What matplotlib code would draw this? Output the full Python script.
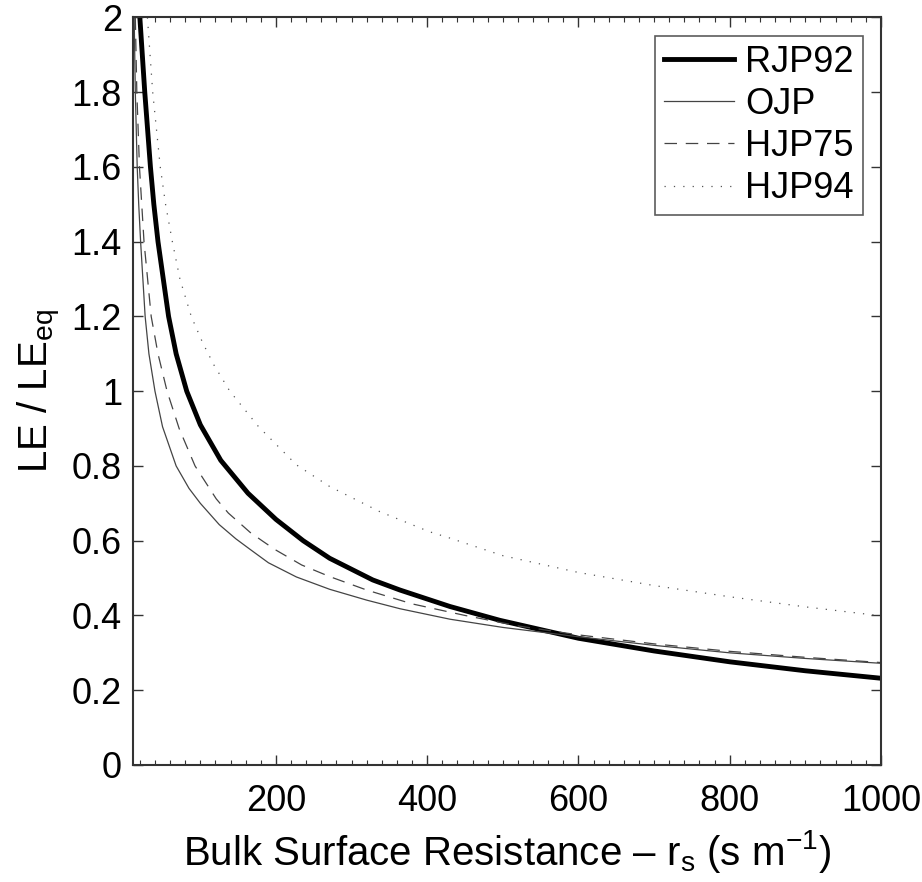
import matplotlib
matplotlib.use("Agg")
import matplotlib.pyplot as plt
from matplotlib.ticker import MultipleLocator, FixedLocator

plt.rcParams['font.family'] = ['Liberation Sans', 'DejaVu Sans']
plt.rcParams['mathtext.fontset'] = 'custom'
plt.rcParams['mathtext.rm'] = 'Liberation Sans'
plt.rcParams['mathtext.it'] = 'Liberation Sans'

# RJP92 (thick solid)
rjp92_x = [20, 26.5, 34, 38.5, 44, 58, 68, 82, 100, 127, 163, 200, 236, 271, 328, 364, 430, 496, 600, 700, 800, 900, 1000]
rjp92_y = [2.0, 1.8, 1.6, 1.5, 1.4, 1.2, 1.1, 1.0, 0.91, 0.815, 0.727, 0.657, 0.6, 0.553, 0.495, 0.468, 0.424, 0.387, 0.339, 0.305, 0.276, 0.252, 0.232]

# OJP (thin solid)
ojp_x = [12.5, 14, 16.5, 18.5, 21, 27, 32, 40, 50, 68, 85, 100, 125, 147, 165, 190, 227, 271, 320, 364, 430, 500, 600, 700, 800, 900, 1000]
ojp_y = [2.0, 1.8, 1.6, 1.5, 1.4, 1.2, 1.1, 1.0, 0.905, 0.8, 0.74, 0.70, 0.643, 0.605, 0.578, 0.541, 0.503, 0.47, 0.441, 0.418, 0.39, 0.368, 0.343, 0.32, 0.3, 0.285, 0.272]

# HJP75 (dashed)
hjp75_x = [14, 16, 19.5, 22.5, 25.5, 35, 44, 56, 72, 93, 121, 137, 166, 183, 199, 234, 271, 320, 380, 450, 520, 600, 700, 800, 900, 1000]
hjp75_y = [2.0, 1.8, 1.6, 1.5, 1.4, 1.2, 1.1, 1.0, 0.9, 0.8, 0.712, 0.674, 0.622, 0.598, 0.576, 0.535, 0.504, 0.468, 0.431, 0.4, 0.372, 0.348, 0.324, 0.304, 0.288, 0.274]

# HJP94 (dotted)
hjp94_x = [30, 37, 47, 54, 63, 73, 88, 103, 118, 139, 177, 227, 271, 337, 403, 430, 500, 600, 700, 800, 900, 1000]
hjp94_y = [2.0, 1.8, 1.6, 1.5, 1.4, 1.3, 1.2, 1.13, 1.07, 1.0, 0.905, 0.803, 0.745, 0.678, 0.624, 0.607, 0.56, 0.515, 0.48, 0.45, 0.423, 0.399]

xticks = [200, 400, 600, 800, 1000]
yticks = [0, 0.2, 0.4, 0.6, 0.8, 1.0, 1.2, 1.4, 1.6, 1.8, 2.0]
ytick_labels = ['0', '0.2', '0.4', '0.6', '0.8', '1', '1.2', '1.4', '1.6', '1.8', '2']

fig = plt.figure(figsize=(9.22, 8.82), dpi=100)
ax = fig.add_axes([0.1443, 0.1327, 0.8112, 0.8475])

ax.plot(rjp92_x, rjp92_y, color='black', lw=3.5, label='RJP92', solid_joinstyle='round')
ax.plot(ojp_x, ojp_y, color='#444444', lw=0.9, label='OJP')
ax.plot(hjp75_x, hjp75_y, color='#444444', lw=0.9, ls=(0, (10, 7)), label='HJP75')
ax.plot(hjp94_x, hjp94_y, color='#555555', lw=0.9, ls=(0, (1, 6.5)), label='HJP94')

ax.set_xlim(11, 1000)
ax.set_ylim(0, 2)
ax.xaxis.set_major_locator(FixedLocator(xticks))
ax.xaxis.set_minor_locator(MultipleLocator(20))
ax.set_yticks(yticks)
ax.set_yticklabels(ytick_labels)

ax.tick_params(which='both', direction='in', top=True, right=True, labelsize=26, color='#333333')
ax.tick_params(which='major', length=7, width=1)
ax.tick_params(which='minor', length=3.5, width=0.8)
ax.tick_params(axis='x', pad=14)
ax.tick_params(axis='y', pad=8)
for s in ax.spines.values():
    s.set_linewidth(1.5)
    s.set_color('#333333')

ax.set_xlabel('Bulk Surface Resistance – r$_{\\mathrm{s}}$ (s m$^{\\mathrm{-1}}$)', fontsize=29, labelpad=6)
ax.set_ylabel('LE / LE$_{\\mathrm{eq}}$', fontsize=29, labelpad=6)

leg = ax.legend(loc='upper right', fontsize=26, frameon=True, fancybox=False,
                edgecolor='#333333', handlelength=1.95, handletextpad=0.3,
                labelspacing=0.2, borderpad=0.25, borderaxespad=0.5)
leg.get_frame().set_linewidth(1.2)

fig.savefig('out.png', dpi=100)
